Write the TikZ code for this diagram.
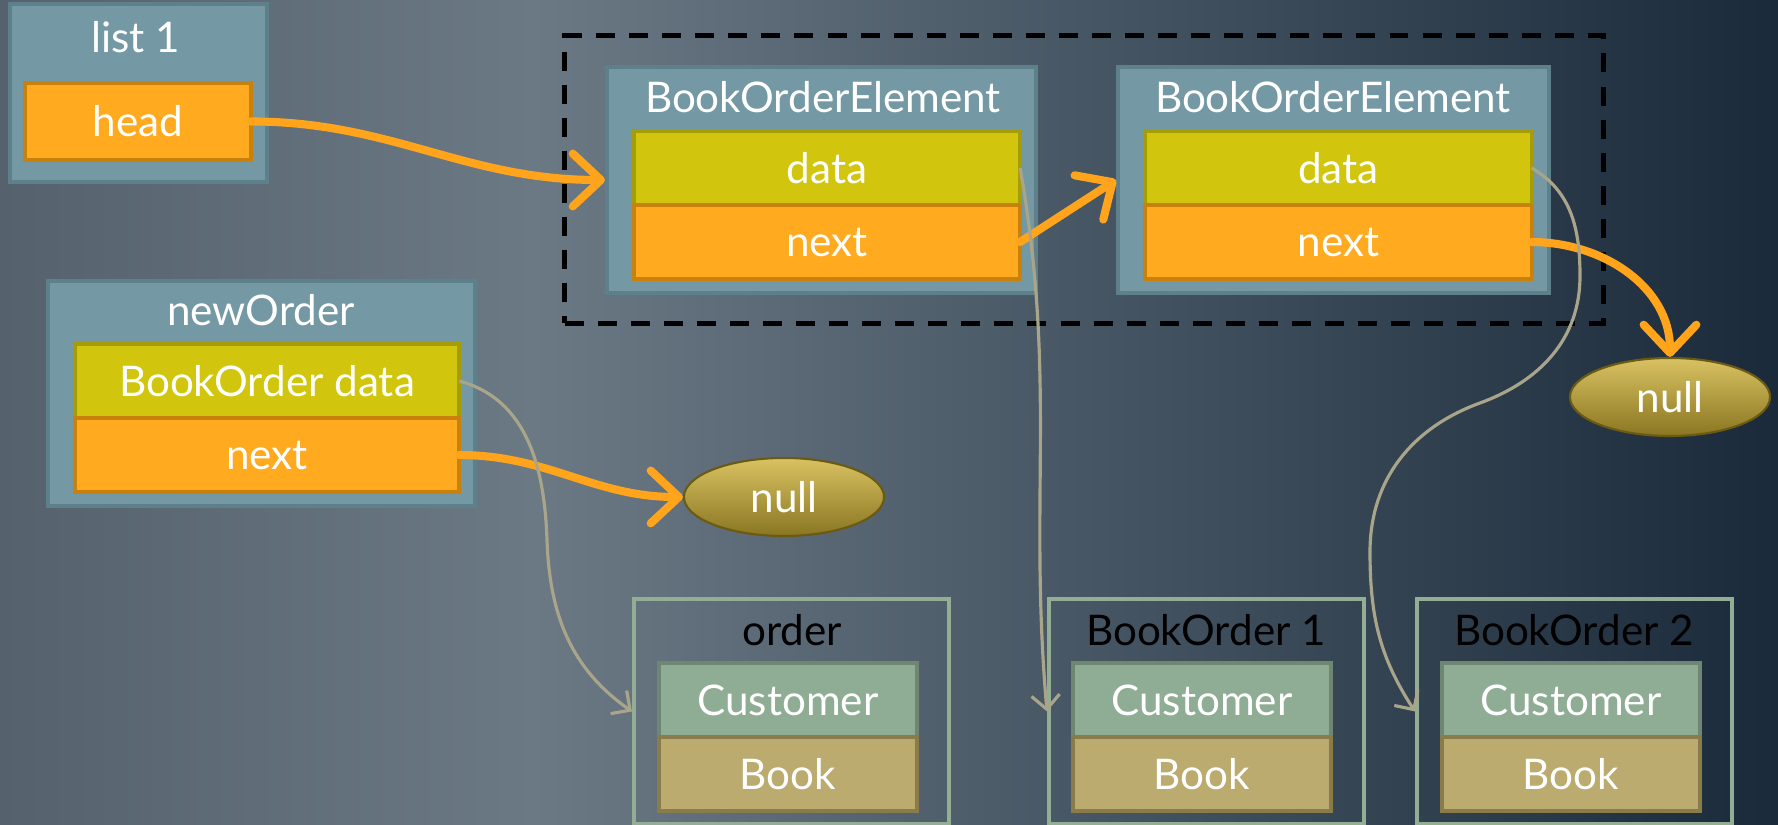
\documentclass[tikz,border=0pt]{standalone}
\usepackage{xcolor}
\usepackage{fontspec}
\setmainfont{Lato}
\usepackage{tikz}
\usetikzlibrary{positioning,arrows.meta,shapes.geometric}

\definecolor{bgleft}{HTML}{55626D}
\definecolor{bgmid}{HTML}{6B7985}
\definecolor{bgright}{HTML}{1A2A3A}
\definecolor{boxblue}{HTML}{7499A4}
\definecolor{boxblueedge}{HTML}{5E808B}
\definecolor{ptrorange}{HTML}{FFAA1F}
\definecolor{ptrorangeedge}{HTML}{C8810C}
\definecolor{datayellow}{HTML}{D1C60D}
\definecolor{datayellowedge}{HTML}{A69C08}
\definecolor{custgreen}{HTML}{8FAC94}
\definecolor{custgreenedge}{HTML}{6E8672}
\definecolor{booktan}{HTML}{BBAB6F}
\definecolor{booktanedge}{HTML}{8A7C4A}
\definecolor{objedge}{HTML}{93AE94}
\definecolor{reflink}{HTML}{A9A58A}
\definecolor{arrorange}{HTML}{FFA41B}
\definecolor{nullhi}{HTML}{D8C262}
\definecolor{nulllo}{HTML}{8A7622}
\definecolor{nulledge}{HTML}{6A5A12}

\pgfdeclarehorizontalshading{slidebg}{100bp}{color(0bp)=(bgleft); color(25bp)=(bgleft); color(40bp)=(bgmid); color(75bp)=(bgright); color(100bp)=(bgright)}

\begin{document}
\begin{tikzpicture}[x=0.01cm, y=0.01cm, font=\fontsize{12}{14}\selectfont,
		container/.style={rectangle, fill=boxblue, draw=boxblueedge, line width=1.1pt, inner sep=0pt},
		object/.style={rectangle, draw=objedge, line width=1.1pt, inner sep=0pt, minimum width=3.15cm, minimum height=2.25cm},
		field/.style={rectangle, line width=1.1pt, minimum width=3.86cm, minimum height=0.74cm, inner sep=0pt, outer sep=0pt, text=white},
		ptr/.style={field, fill=ptrorange, draw=ptrorangeedge},
		val/.style={field, fill=datayellow, draw=datayellowedge},
		cust/.style={field, fill=custgreen, draw=custgreenedge, minimum width=2.58cm},
		bk/.style={field, fill=booktan, draw=booktanedge, minimum width=2.58cm},
		heading/.style={text=white},
		nullnode/.style={ellipse, minimum width=2cm, minimum height=0.78cm, top color=nullhi, bottom color=nulllo, draw=nulledge, line width=0.6pt, text=white},
		link/.style={draw=arrorange, line width=2.3pt, line cap=round, -{Straight Barb[length=8pt, width=15pt, round]}},
		ref/.style={draw=reflink, line width=0.9pt, -{Straight Barb[length=4pt, width=8pt]}}]
		\useasboundingbox (0,0) rectangle (1778,825);
		\shade[shading=slidebg] (0,0) rectangle (1778,825);

		\node[draw=black, line width=1.4pt, dash pattern=on 5.4pt off 4pt, minimum width=10.38cm, minimum height=2.87cm] (chain) at (1084,645.5) {};

		\node[container, minimum width=2.57cm, minimum height=1.78cm] (list) at (138.5,732) {};
		\node[heading] (listname) at (136,788) {list 1};
		\node[ptr, minimum width=2.26cm, minimum height=0.77cm] (head) at (138,703.5) {head};

		\node[container, minimum width=4.29cm, minimum height=2.26cm] (elem1) at (821.5,645) {};
		\node[heading] (elem1name) at (823,728) {BookOrderElement};
		\node[val] (data1) at (827,657) {data};
		\node[ptr] (next1) [below=0pt of data1] {next};

		\node[container, minimum width=4.31cm, minimum height=2.26cm] (elem2) at (1333.5,645) {};
		\node[heading] (elem2name) at (1333,728) {BookOrderElement};
		\node[val] (data2) at (1338.5,657) {data};
		\node[ptr] (next2) [below=0pt of data2] {next};

		\node[nullnode] (null1) at (1670,428) {null};

		\node[container, minimum width=4.27cm, minimum height=2.25cm] (neworder) at (261.5,431.5) {};
		\node[heading] (newordername) at (261,515) {newOrder};
		\node[val, minimum width=3.84cm] (data0) at (267,444) {BookOrder data};
		\node[ptr, minimum width=3.84cm] (next0) [below=0pt of data0] {next};

		\node[nullnode] (null0) at (784,328) {null};

		\node[object] (order) at (791.5,113.5) {};
		\node[heading, text=black] (ordername) at (792,195) {order};
		\node[cust] (cust0) at (788,125) {Customer};
		\node[bk] (book0) [below=0pt of cust0] {Book};

		\node[object] (bo1) at (1206.5,113.5) {};
		\node[heading, text=black] (bo1name) at (1206,195) {BookOrder 1};
		\node[cust] (cust1) at (1202,125) {Customer};
		\node[bk] (book1) [below=0pt of cust1] {Book};

		\node[object] (bo2) at (1574.5,113.5) {};
		\node[heading, text=black] (bo2name) at (1574,195) {BookOrder 2};
		\node[cust] (cust2) at (1571,125) {Customer};
		\node[bk] (book2) [below=0pt of cust2] {Book};

		\path (head) edge[link, out=0, in=180] (elem1);
		\path (next1.east) edge[link] (elem2.west);
		\path (next2.east) edge[link, out=0, in=90] (null1);
		\path (next0) edge[link, out=0, in=180] (null0);

		\draw[ref] (data0.east) to[out=-15, in=92] (547,285) to[out=-88, in=145] (order.west);
		\path (data1.east) edge[ref, out=-80, in=95] (bo1.west);
		\draw[ref] (data2.east) to[out=-30, in=90] (1580,549) to[out=-90, in=20] (1480,422) to[out=200, in=90] (1370,273) to[out=-90, in=123] (bo2.west);
\end{tikzpicture}
\end{document}
